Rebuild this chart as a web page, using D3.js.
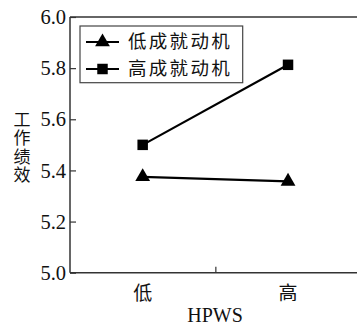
<!DOCTYPE html>
<html><head><meta charset="utf-8">
<script src="https://cdn.jsdelivr.net/npm/d3@7"></script>
<style>body{margin:0;background:#fff;}svg{display:block;}</style>
</head><body>
<script>
const categories = ["低", "高"];
const seriesNames = ["低成就动机", "高成就动机"];
const lowMotivation = [5.375, 5.357];
const highMotivation = [5.50, 5.813];
const yTicks = [5.0, 5.2, 5.4, 5.6, 5.8, 6.0];
const xTitle = "HPWS";
const yTitle = "工作绩效";

(function () {
const W = 357, H = 324;
const svg = d3.select("body").append("svg").attr("width", W).attr("height", H);
const mLeft = 70, mTop = 17, mBottom = 272.7, mRight = 360.7;
const serif = "'Liberation Serif','Times New Roman',serif";
const cjk = "'Noto Sans CJK SC',sans-serif";

const x = d3.scaleLinear().domain([0, 4]).range([mLeft, mRight]);
const catX = i => x(i * 2 + 1);
const y = d3.scaleLinear().domain([5.0, 6.0]).range([mBottom, mTop]);

const axisColor = "#333";
svg.append("line").attr("x1", mLeft).attr("x2", mLeft).attr("y1", mTop).attr("y2", mBottom).attr("stroke", axisColor).attr("stroke-width", 1.5);
svg.append("line").attr("x1", mLeft).attr("x2", W).attr("y1", mBottom).attr("y2", mBottom).attr("stroke", axisColor).attr("stroke-width", 1.5);
svg.append("line").attr("x1", mLeft).attr("x2", W).attr("y1", mTop).attr("y2", mTop).attr("stroke", axisColor).attr("stroke-width", 1.5);

const yAxis = d3.axisRight(y).tickValues(yTicks).tickSize(6).tickFormat("");
const ya = svg.append("g").attr("transform", `translate(${mLeft},0)`).call(yAxis);
ya.select(".domain").remove();
ya.selectAll("line").attr("stroke", axisColor).attr("stroke-width", 1.2);
svg.selectAll(".ylab").data(yTicks).enter().append("text")
  .attr("x", mLeft - 4).attr("y", d => y(d)).attr("dy", "0.35em")
  .attr("text-anchor", "end").attr("font-family", serif).attr("font-size", 20.5).attr("fill", "#111")
  .text(d => d.toFixed(1));

const xa = svg.append("g").attr("transform", `translate(0,${mBottom})`)
  .call(d3.axisTop(x).tickValues([2]).tickSize(6).tickFormat(""));
xa.select(".domain").remove();
xa.selectAll("line").attr("stroke", axisColor).attr("stroke-width", 1.2);

categories.forEach((c, i) => {
  svg.append("text").attr("x", catX(i)).attr("y", 293).attr("dy", "0.35em")
    .attr("text-anchor", "middle").attr("font-family", cjk).attr("font-size", 19).attr("fill", "#111").text(c);
});
svg.append("text").attr("x", 215).attr("y", 314.5).attr("dy", "0.35em")
  .attr("text-anchor", "middle").attr("font-family", serif).attr("font-size", 20).attr("fill", "#111").text(xTitle);

svg.append("text").attr("x", 22).attr("y", 148)
  .attr("text-anchor", "middle")
  .style("writing-mode", "vertical-rl").style("text-orientation", "upright")
  .attr("letter-spacing", 1.5)
  .attr("font-family", cjk).attr("font-size", 17).attr("fill", "#111").text(yTitle);

const line = d3.line().x((d, i) => catX(i)).y(d => y(d));
const triSym = d3.symbol().type(d3.symbolTriangle).size(95);
const sqSym = d3.symbol().type(d3.symbolSquare).size(110);
[lowMotivation, highMotivation].forEach((vals, s) => {
  svg.append("path").attr("d", line(vals)).attr("fill", "none").attr("stroke", "#000").attr("stroke-width", 2.2);
  vals.forEach((v, i) => {
    svg.append("path").attr("d", s === 0 ? triSym() : sqSym())
      .attr("transform", `translate(${catX(i)},${y(v)})`).attr("fill", "#000");
  });
});

svg.append("rect").attr("x", 80).attr("y", 26).attr("width", 162.7).attr("height", 56.7)
  .attr("fill", "#fff").attr("stroke", "#444").attr("stroke-width", 1.2);
seriesNames.forEach((n, s) => {
  const ly = 42 + s * 27;
  svg.append("line").attr("x1", 86).attr("x2", 119).attr("y1", ly).attr("y2", ly).attr("stroke", "#000").attr("stroke-width", 2.2);
  svg.append("path").attr("d", s === 0 ? triSym() : sqSym()).attr("transform", `translate(102.5,${ly})`).attr("fill", "#000");
  svg.append("text").attr("x", 128).attr("y", ly).attr("dy", "0.35em")
    .attr("letter-spacing", 2.3)
    .attr("font-family", cjk).attr("font-size", 18.5).attr("fill", "#111").text(n);
});
})();
</script>
</body></html>
